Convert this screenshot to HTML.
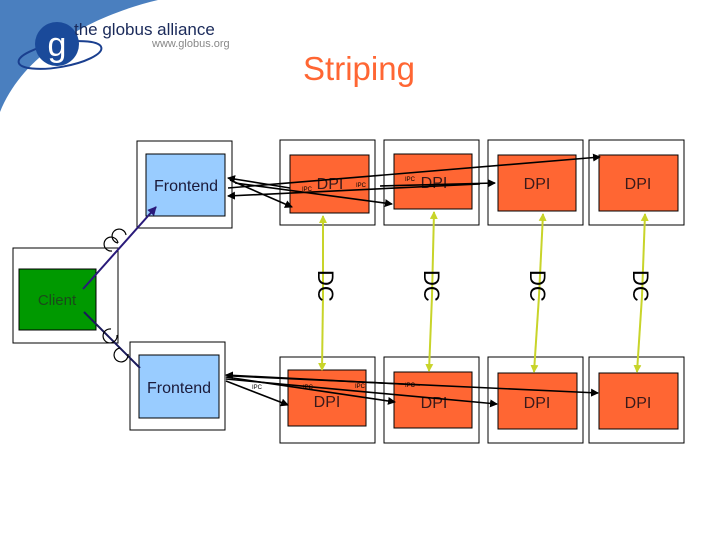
<!DOCTYPE html>
<html><head><meta charset="utf-8"><style>
html,body{margin:0;padding:0;background:#fff;width:720px;height:540px;overflow:hidden}
svg{display:block}
text{font-family:"Liberation Sans",sans-serif}
</style></head><body>
<svg width="720" height="540" viewBox="0 0 720 540" xmlns="http://www.w3.org/2000/svg">
<defs>
<marker id="ab" markerWidth="8" markerHeight="8" refX="7" refY="4" orient="auto" markerUnits="userSpaceOnUse"><path d="M0,0 L8,4 L0,8 z" fill="#000"/></marker>
<marker id="ay" markerWidth="8" markerHeight="8" refX="7" refY="4" orient="auto" markerUnits="userSpaceOnUse"><path d="M0,0 L8,4 L0,8 z" fill="#c8d42a"/></marker>
<marker id="ap" markerWidth="9" markerHeight="9" refX="8" refY="4.5" orient="auto" markerUnits="userSpaceOnUse"><path d="M0,0 L9,4.5 L0,9 z" fill="#2a1a7a"/></marker>
</defs>
<path d="M0,0 L158,0 C95,15 25,50 0,112 Z" fill="#4a7fbf"/>
<ellipse cx="60" cy="55" rx="42" ry="12" fill="none" stroke="#1a3f8f" stroke-width="2" transform="rotate(-10 60 55)"/>
<circle cx="57" cy="44" r="22" fill="#1a4a9a"/>
<text x="57" y="56" font-family="Liberation Serif,serif" font-size="34" fill="#fff" text-anchor="middle">g</text>
<text x="74" y="35" font-size="17" fill="#1a2a5a">the globus alliance</text>
<text x="152" y="47" font-size="11" fill="#888">www.globus.org</text>
<text x="359" y="80" font-size="33" fill="#ff6633" text-anchor="middle">Striping</text>
<g stroke="#000" stroke-width="1" fill="#fff">
<rect x="137" y="141" width="95" height="87"/>
<rect x="13" y="248" width="105" height="95"/>
<rect x="130" y="342" width="95" height="88"/>
<rect x="280" y="140" width="95" height="85"/><rect x="384" y="140" width="95" height="85"/><rect x="488" y="140" width="95" height="85"/><rect x="589" y="140" width="95" height="85"/>
<rect x="280" y="357" width="95" height="86"/><rect x="384" y="357" width="95" height="86"/><rect x="488" y="357" width="95" height="86"/><rect x="589" y="357" width="95" height="86"/>
</g>
<g stroke="#000" stroke-width="1">
<rect x="146" y="154" width="79" height="62" fill="#99ccff"/>
<rect x="19" y="269" width="77" height="61" fill="#009900"/>
<rect x="139" y="355" width="80" height="63" fill="#99ccff"/>
<rect x="290" y="155" width="79" height="58" fill="#ff6633"/><rect x="394" y="154" width="78" height="55" fill="#ff6633"/><rect x="498" y="155" width="78" height="56" fill="#ff6633"/><rect x="599" y="155" width="79" height="56" fill="#ff6633"/>
<rect x="288" y="370" width="78" height="56" fill="#ff6633"/><rect x="394" y="372" width="78" height="56" fill="#ff6633"/><rect x="498" y="373" width="79" height="56" fill="#ff6633"/><rect x="599" y="373" width="79" height="56" fill="#ff6633"/>
</g>
<g font-size="16" fill="#1a1a3a" text-anchor="middle">
<text x="186" y="191">Frontend</text>
<text x="179" y="393">Frontend</text>
</g>
<text x="57" y="305" font-size="15" fill="#1a4a1a" text-anchor="middle">Client</text>
<g font-size="16" fill="#3a1a1a" text-anchor="middle">
<text x="330" y="189">DPI</text><text x="434" y="188">DPI</text><text x="537" y="189">DPI</text><text x="638" y="189">DPI</text>
<text x="327" y="407">DPI</text><text x="434" y="408">DPI</text><text x="537" y="408">DPI</text><text x="638" y="408">DPI</text>
</g>
<g stroke="#c8d42a" stroke-width="2" fill="none">
<line x1="323" y1="296" x2="323" y2="216" marker-end="url(#ay)"/><line x1="323" y1="296" x2="322" y2="370" marker-end="url(#ay)"/>
<line x1="432" y1="296" x2="434" y2="212" marker-end="url(#ay)"/><line x1="432" y1="296" x2="429" y2="371" marker-end="url(#ay)"/>
<line x1="539" y1="296" x2="543" y2="214" marker-end="url(#ay)"/><line x1="539" y1="296" x2="534" y2="372" marker-end="url(#ay)"/>
<line x1="642" y1="296" x2="645" y2="214" marker-end="url(#ay)"/><line x1="642" y1="296" x2="637" y2="372" marker-end="url(#ay)"/>
</g>
<g font-size="22" fill="#000">
<text transform="translate(318,270) rotate(90)">DC</text>
<text transform="translate(424,270) rotate(90)">DC</text>
<text transform="translate(530,270) rotate(90)">DC</text>
<text transform="translate(633,270) rotate(90)">DC</text>
</g>
<line x1="83" y1="289" x2="156" y2="207" stroke="#2a1a7a" stroke-width="2" marker-end="url(#ap)"/>
<line x1="84" y1="312" x2="140" y2="368" stroke="#1a1a5a" stroke-width="2"/>
<g fill="none" stroke="#000" stroke-width="1.2">
<path d="M118,243 a7,7 0 1 1 8,-8"/><path d="M118,243 a7,7 0 1 0 -6,8"/>
<path d="M117,335 a7,7 0 1 1 -6,-6"/><path d="M120,348 a7,7 0 1 0 8,6"/>
</g>
<g stroke="#000" stroke-width="1.6" fill="none">
<line x1="290" y1="188" x2="228" y2="178" marker-end="url(#ab)"/>
<line x1="228" y1="188" x2="600" y2="157" marker-end="url(#ab)"/>
<line x1="480" y1="184" x2="228" y2="196" marker-end="url(#ab)"/>
<line x1="380" y1="186" x2="495" y2="183" marker-end="url(#ab)"/>
<line x1="230" y1="180" x2="292" y2="207" marker-end="url(#ab)"/>
<line x1="235" y1="183" x2="392" y2="204" marker-end="url(#ab)"/>
</g>
<g stroke="#000" stroke-width="1.6" fill="none">
<line x1="232" y1="376" x2="598" y2="393" marker-end="url(#ab)"/>
<line x1="420" y1="385" x2="226" y2="375" marker-end="url(#ab)"/>
<line x1="226" y1="377" x2="395" y2="402" marker-end="url(#ab)"/>
<line x1="226" y1="379" x2="497" y2="404" marker-end="url(#ab)"/>
<line x1="226" y1="381" x2="288" y2="405" marker-end="url(#ab)"/>
</g>
<g font-size="6" fill="#000">
<text x="302" y="191">IPC</text><text x="356" y="187">IPC</text><text x="405" y="181">IPC</text>
<text x="303" y="389">IPC</text><text x="355" y="388">IPC</text><text x="405" y="387">IPC</text><text x="252" y="389">IPC</text>
</g>
</svg>
</body></html>
